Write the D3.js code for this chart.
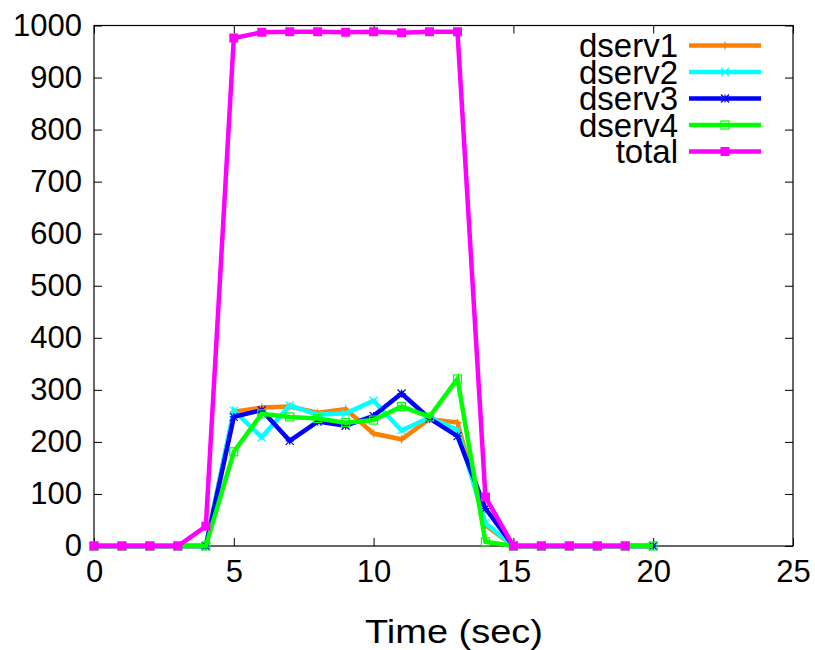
<!DOCTYPE html>
<html>
<head>
<meta charset="utf-8">
<title>dserv throughput</title>
<style>
  body { margin: 0; background: #fff; }
  svg { font-family: "Liberation Sans", Arial, sans-serif; }
  .line { fill: none; stroke-width: 4.5px; stroke-linejoin: miter; }
</style>
<script src="https://d3js.org/d3.v7.min.js"></script>
</head>
<body>
<div id="chart"></div>
<script>
// data
var times = [0, 1, 2, 3, 4, 5, 6, 7, 8, 9, 10, 11, 12, 13, 14, 15, 16, 17, 18, 19, 20];
var dserv1 = [0, 0, 0, 0, 0, 258, 266, 268, 256, 263, 216, 205, 244, 237, 40, 0, 0, 0, 0, 0, 0];
var dserv2 = [0, 0, 0, 0, 0, 260, 209, 270, 252, 255, 279, 222, 247, 223, 44, 0, 0, 0, 0, 0, 0];
var dserv3 = [0, 0, 0, 0, 0, 248, 261, 202, 239, 231, 250, 293, 245, 211, 72, 0, 0, 0, 0, 0, 0];
var dserv4 = [0, 0, 0, 0, 0, 181, 254, 248, 245, 237, 242, 268, 248, 321, 8, 0, 0, 0, 0, 0, 0];
var total  = [0, 0, 0, 0, 38, 976, 987, 988, 988, 987, 988, 986, 988, 988, 94, 0, 0, 0, 0, 0];
var xTicks = [0, 5, 10, 15, 20, 25];
var yTicks = [0, 100, 200, 300, 400, 500, 600, 700, 800, 900, 1000];

var series = [
  { name: "dserv1", values: dserv1, color: "#ff7f00", mark: "plus" },
  { name: "dserv2", values: dserv2, color: "#00ffff", mark: "cross" },
  { name: "dserv3", values: dserv3, color: "#0000ff", mark: "star" },
  { name: "dserv4", values: dserv4, color: "#00ff00", mark: "box" },
  { name: "total",  values: total,  color: "#ff00ff", mark: "fbox" }
];

var width = 815, height = 650;
var plot = { left: 94, right: 793, top: 25.5, bottom: 546 };

var x = d3.scaleLinear().domain([0, 25]).range([plot.left, plot.right]);
var y = d3.scaleLinear().domain([0, 1000]).range([plot.bottom, plot.top]);

var svg = d3.select("#chart").append("svg")
    .attr("width", width)
    .attr("height", height);

// frame
svg.append("rect")
    .attr("x", plot.left).attr("y", plot.top)
    .attr("width", plot.right - plot.left).attr("height", plot.bottom - plot.top)
    .attr("fill", "none").attr("stroke", "#000").attr("stroke-width", 1.2);

// axes, ticks pointing in, mirrored on top and right
var tick = 8;
svg.append("g")
    .attr("transform", "translate(0," + plot.bottom + ")")
    .call(d3.axisBottom(x).tickValues(xTicks).tickSizeInner(-tick).tickSizeOuter(0).tickPadding(14))
    .call(function(g) {
      g.select(".domain").remove();
      g.selectAll("text").attr("font-size", 31).attr("fill", "#000");
    });
svg.append("g")
    .attr("transform", "translate(0," + plot.top + ")")
    .call(d3.axisTop(x).tickValues(xTicks).tickSizeInner(-tick).tickSizeOuter(0).tickFormat(""))
    .call(function(g) { g.select(".domain").remove(); });
svg.append("g")
    .attr("transform", "translate(" + plot.left + ",0)")
    .call(d3.axisLeft(y).tickValues(yTicks).tickFormat(d3.format("d")).tickSizeInner(-tick).tickSizeOuter(0).tickPadding(12))
    .call(function(g) {
      g.select(".domain").remove();
      g.selectAll("text").attr("font-size", 31).attr("fill", "#000");
    });
svg.append("g")
    .attr("transform", "translate(" + plot.right + ",0)")
    .call(d3.axisRight(y).tickValues(yTicks).tickSizeInner(-tick).tickSizeOuter(0).tickFormat(""))
    .call(function(g) { g.select(".domain").remove(); });

svg.append("text")
    .attr("x", 454).attr("y", 643)
    .attr("text-anchor", "middle")
    .attr("font-size", 34)
    .attr("textLength", 178)
    .attr("lengthAdjust", "spacingAndGlyphs")
    .text("Time (sec)");

// point symbols
function drawMark(g, kind, cx, cy, color) {
  var s = 4;
  if (kind === "plus") {
    g.append("path").attr("d", "M" + (cx - s) + "," + cy + "H" + (cx + s) + "M" + cx + "," + (cy - s) + "V" + (cy + s))
      .attr("stroke", color).attr("stroke-width", 1.2).attr("fill", "none");
  } else if (kind === "cross") {
    g.append("path").attr("d", "M" + (cx - s) + "," + (cy - s) + "L" + (cx + s) + "," + (cy + s) + "M" + (cx - s) + "," + (cy + s) + "L" + (cx + s) + "," + (cy - s))
      .attr("stroke", color).attr("stroke-width", 1.2).attr("fill", "none");
  } else if (kind === "star") {
    g.append("path").attr("d", "M" + (cx - s) + "," + cy + "H" + (cx + s) + "M" + cx + "," + (cy - s) + "V" + (cy + s) +
        "M" + (cx - s) + "," + (cy - s) + "L" + (cx + s) + "," + (cy + s) + "M" + (cx - s) + "," + (cy + s) + "L" + (cx + s) + "," + (cy - s))
      .attr("stroke", color).attr("stroke-width", 1.2).attr("fill", "none");
  } else if (kind === "box") {
    g.append("rect").attr("x", cx - s).attr("y", cy - s).attr("width", 2 * s).attr("height", 2 * s)
      .attr("stroke", color).attr("stroke-width", 1.2).attr("fill", "none");
  } else {
    g.append("rect").attr("x", cx - 4.5).attr("y", cy - 4.5).attr("width", 9).attr("height", 9)
      .attr("fill", color);
  }
}

var line = d3.line()
    .x(function(d, i) { return x(times[i]); })
    .y(function(d) { return y(d); });

series.forEach(function(s) {
  var g = svg.append("g");
  g.append("path")
    .datum(s.values)
    .attr("class", "line")
    .attr("stroke", s.color)
    .attr("d", line);
  s.values.forEach(function(v, i) {
    drawMark(g, s.mark, x(times[i]), y(v), s.color);
  });
});

// legend
var legend = svg.append("g");
series.forEach(function(s, i) {
  var ly = 45.5 + i * 26.5;
  legend.append("text")
    .attr("x", 678).attr("y", ly)
    .attr("dy", "0.36em")
    .attr("text-anchor", "end")
    .attr("font-size", 33)
    .text(s.name);
  legend.append("line")
    .attr("x1", 689).attr("x2", 761)
    .attr("y1", ly).attr("y2", ly)
    .attr("stroke", s.color).attr("stroke-width", 4.5);
  drawMark(legend, s.mark, 725, ly, s.color);
});
</script>
</body>
</html>
